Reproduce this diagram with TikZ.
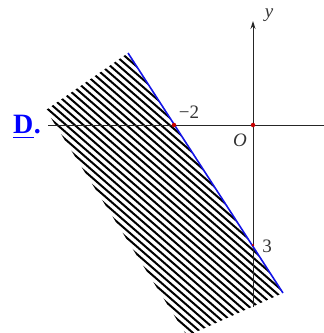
\documentclass[tikz,border=0pt]{standalone}
\usepackage{fontspec}
\setmainfont{Liberation Serif}
\usetikzlibrary{arrows.meta}
\definecolor{lineblue}{RGB}{20,20,230}
\definecolor{dotred}{RGB}{200,0,0}
\definecolor{ansblue}{RGB}{0,0,255}
\tikzset{
  hatchline/.style={line width=2pt, black},
  axisline/.style={line width=0.9pt, black!85},
  bound/.style={line width=1.6pt, lineblue},
  dot/.style={circle, fill=dotred, inner sep=0pt, minimum size=4.5pt},
  lbl/.style={font=\fontsize{19}{19}\selectfont, text=black!80, inner sep=0pt}
}
\begin{document}
\begin{tikzpicture}[x=1pt,y=-1pt]
\useasboundingbox (0,0) rectangle (324,333);
% hatched half-plane
\begin{scope}
\clip (128,53) -- (283,293) -- (187,336) -- (46,110) -- cycle;
\foreach \c in {-60,-52.5,...,200} \draw[hatchline] (0,\c) -- (340,{\c+0.87*340});
\end{scope}
% axes
\coordinate (xs) at (48,125);
\coordinate (xe) at (334,125);
\coordinate (ys) at (253,307);
\coordinate (ye) at (253,21);
\draw[axisline,-{Stealth[length=8pt,width=5pt]}] (xs) -- (xe);
\draw[axisline,-{Stealth[length=8pt,width=5pt]}] (ys) -- (ye);
% boundary line
\coordinate (la) at (128,53);
\coordinate (lb) at (283,293);
\draw[bound] (la) -- (lb);
% points
\node[dot] (pm2) at (174,125) {};
\node[dot] (po) at (253,125) {};
\node[dot, minimum size=2.5pt] (p3) at (253,245) {};
% labels
\node[lbl] (lm2) at (189,112) {−2};
\node[lbl] (lo) at (240,140) {\itshape O};
\node[lbl] (l3) at (267,246) {3};
\node[lbl] (ly) at (269,15) {\itshape y};
\node[lbl] (lx) at (332,140) {\itshape x};
% answer label
\node[anchor=base west, inner sep=0pt, text=ansblue, font=\fontsize{28}{28}\selectfont\bfseries] (dl) at (13,133) {D};
\node[anchor=base west, inner sep=0pt, text=ansblue, font=\fontsize{28}{28}\selectfont\bfseries] (dp) at (dl.base east) {.};
\draw[ansblue, line width=1.5pt] ([yshift=-4.5pt]dl.base west) -- ([yshift=-4.5pt]dl.base east);
\end{tikzpicture}
\end{document}
